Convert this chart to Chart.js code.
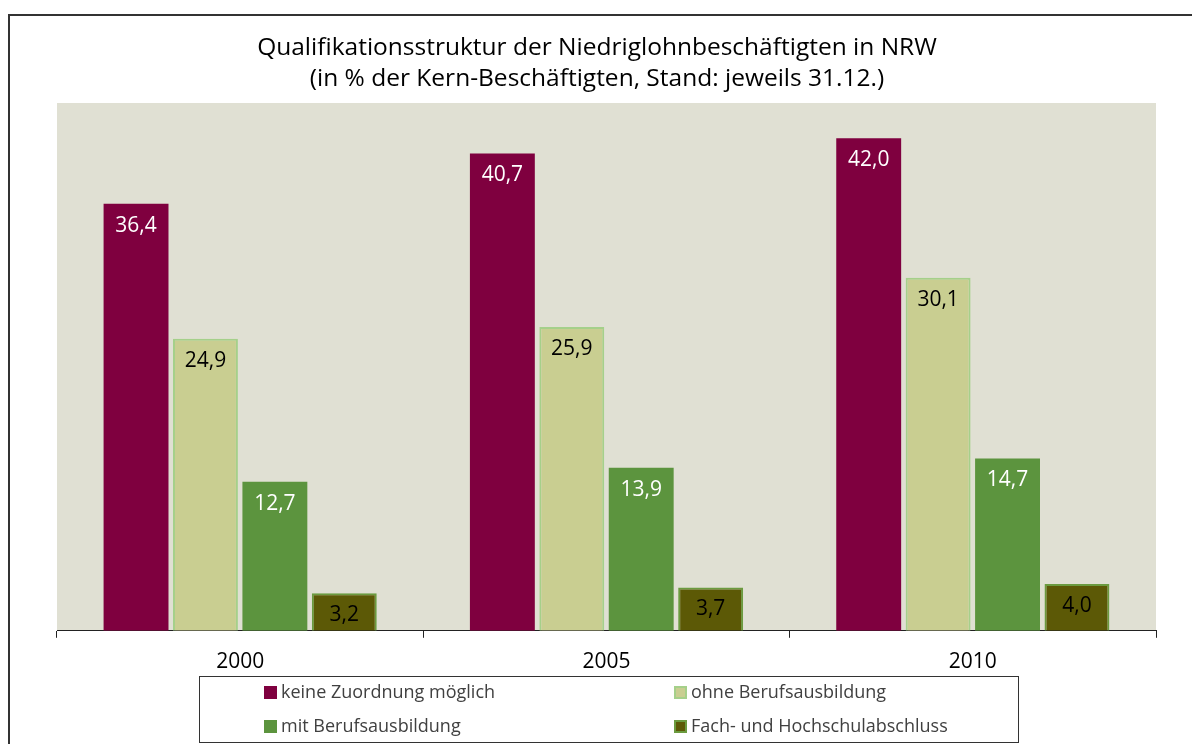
<!DOCTYPE html>
<html><head><meta charset="utf-8">
<script src="https://cdn.jsdelivr.net/npm/chart.js@4"></script>
<style>html,body{margin:0;padding:0;background:#fff}#wrap{width:1192px;height:744px;position:relative}</style>
</head><body><div id="wrap"><canvas id="c" width="1192" height="744"></canvas></div>
<script>
const categories = ['2000', '2005', '2010'];
const seriesNames = ['keine Zuordnung möglich', 'ohne Berufsausbildung', 'mit Berufsausbildung', 'Fach- und Hochschulabschluss'];
const keineZuordnung = [36.4, 40.7, 42.0];
const ohneAusbildung = [24.9, 25.9, 30.1];
const mitAusbildung = [12.7, 13.9, 14.7];
const hochschule = [3.2, 3.7, 4.0];
const titleLines = ['Qualifikationsstruktur der Niedriglohnbeschäftigten in NRW', '(in % der Kern-Beschäftigten, Stand: jeweils 31.12.)'];

const FONT = '"Open Sans", "DejaVu Sans", sans-serif';
const fills = ['#7f003f', '#c9ce91', '#5c943e', '#5c5906'];
const borders = ['#7f003f', '#a5d08a', '#5c943e', '#6b9b3f'];
const borderW = [0, 2, 0, 2];
const labelColors = ['#ffffff', '#000000', '#ffffff', '#000000'];
const seriesValues = [keineZuordnung, ohneAusbildung, mitAusbildung, hochschule];

const decor = {
  id: 'decor',
  beforeDraw(chart) {
    const {ctx, chartArea: a} = chart;
    ctx.save();
    ctx.fillStyle = '#e0e0d3';
    ctx.fillRect(a.left, a.top, a.right - a.left, a.bottom - a.top);
    ctx.restore();
  },
  afterDraw(chart) {
    const ctx = chart.ctx;
    ctx.save();
    // outer frame
    ctx.strokeStyle = '#333';
    ctx.lineWidth = 2;
    ctx.beginPath();
    ctx.moveTo(9, 760); ctx.lineTo(9, 15); ctx.lineTo(1200, 15);
    ctx.stroke();
    // title
    ctx.fillStyle = '#000';
    ctx.font = '24.5px ' + FONT;
    ctx.textAlign = 'center';
    ctx.textBaseline = 'middle';
    ctx.fillText(titleLines[0], 597, 48);
    ctx.fillText(titleLines[1], 597, 79);
    // value labels
    chart.data.datasets.forEach((ds, di) => {
      const meta = chart.getDatasetMeta(di);
      meta.data.forEach((bar, i) => {
        const v = ds.data[i];
        ctx.fillStyle = labelColors[di];
        ctx.font = '21px ' + FONT;
        ctx.textAlign = 'center';
        ctx.textBaseline = 'middle';
        ctx.fillText(v.toFixed(1).replace('.', ','), bar.x, bar.y + 22);
      });
    });
    // legend box
    ctx.strokeStyle = '#333';
    ctx.lineWidth = 1;
    ctx.strokeRect(199.5, 676.5, 819, 66);
    const pos = [[265, 693], [675, 693], [265, 727], [675, 727]];
    chart.data.datasets.forEach((ds, di) => {
      const [x, y] = pos[di];
      ctx.fillStyle = borderW[di] ? borders[di] : fills[di];
      ctx.fillRect(x - 1, y - 7, 13, 13);
      ctx.fillStyle = fills[di];
      ctx.fillRect(x + 1, y - 5, 9, 9);
      ctx.fillStyle = '#404040';
      ctx.font = '18px ' + FONT;
      ctx.textAlign = 'left';
      ctx.textBaseline = 'middle';
      ctx.fillText(ds.label, x + 16, y);
    });
    ctx.restore();
  }
};

new Chart(document.getElementById('c'), {
  type: 'bar',
  data: {
    labels: categories,
    datasets: seriesNames.map((n, i) => ({
      label: n,
      data: seriesValues[i],
      backgroundColor: fills[i],
      borderColor: borders[i],
      borderWidth: borderW[i],
      borderSkipped: 'bottom',
      barPercentage: 0.935,
      categoryPercentage: 0.758
    }))
  },
  options: {
    responsive: false,
    animation: false,
    layout: {padding: {left: 57, right: 36, top: 103, bottom: 57}},
    plugins: {legend: {display: false}, title: {display: false}, tooltip: {enabled: false}},
    scales: {
      x: {
        grid: {offset: true, drawOnChartArea: false, color: '#222', tickLength: 7},
        border: {color: '#222', width: 1},
        ticks: {color: '#000', font: {family: FONT, size: 21}, padding: 12}
      },
      y: {display: false, min: 0, max: 45}
    }
  },
  plugins: [decor]
});
</script></body></html>
